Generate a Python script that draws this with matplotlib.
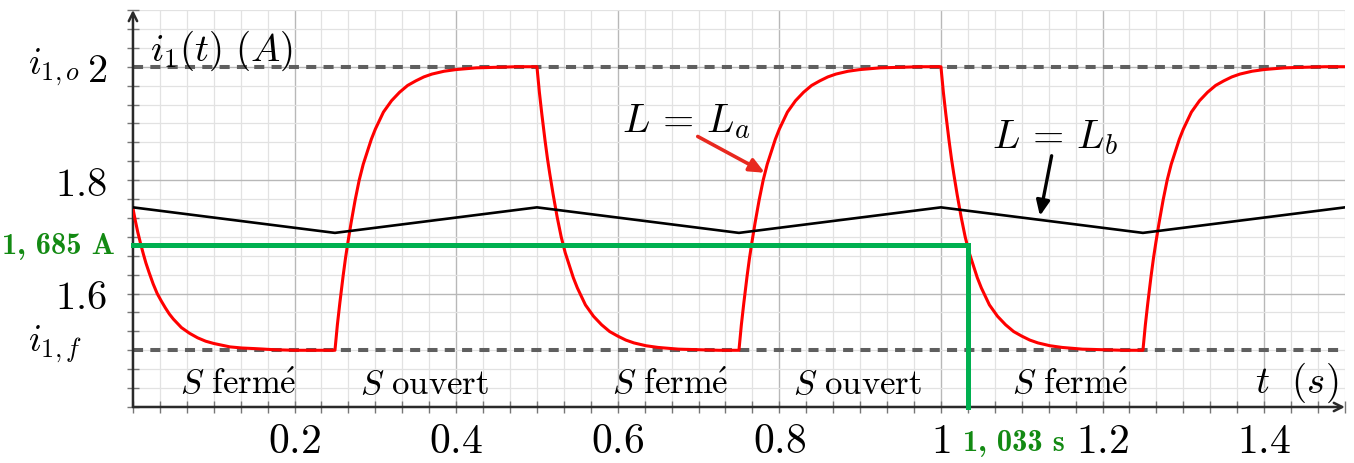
import numpy as np
import matplotlib
matplotlib.use("Agg")
import matplotlib.pyplot as plt
from matplotlib.ticker import MultipleLocator

plt.rcParams["mathtext.fontset"] = "cm"
plt.rcParams["font.family"] = ["DejaVu Serif"]

# red curve (L = La): one shape per switching interval
dt_seg = [0, 0.003, 0.006, 0.01, 0.013, 0.016, 0.02, 0.025, 0.03, 0.035,
          0.04, 0.045, 0.05, 0.06, 0.07, 0.08, 0.09, 0.1, 0.11, 0.12, 0.135,
          0.15, 0.175, 0.2, 0.225, 0.25]
start_a = [1.75, 1.728, 1.708, 1.685, 1.669, 1.654, 1.637, 1.617, 1.60,
           1.587, 1.575, 1.564, 1.555, 1.54, 1.53, 1.522, 1.516, 1.512,
           1.509, 1.506, 1.504, 1.503, 1.501, 1.5, 1.5, 1.5]
fall_a = [2.0, 1.955, 1.917, 1.87, 1.838, 1.81, 1.775, 1.735, 1.70, 1.672,
          1.65, 1.628, 1.61, 1.58, 1.56, 1.545, 1.533, 1.525, 1.518, 1.513,
          1.508, 1.505, 1.502, 1.501, 1.5, 1.5]
rise_a = [1.5, 1.545, 1.583, 1.63, 1.662, 1.69, 1.725, 1.765, 1.80, 1.828,
          1.85, 1.872, 1.89, 1.92, 1.94, 1.955, 1.967, 1.975, 1.982, 1.987,
          1.992, 1.995, 1.998, 1.999, 2.0, 2.0]
seg_start = [0, 0.25, 0.5, 0.75, 1.0, 1.25]
seg_shape = [start_a, rise_a, fall_a, rise_a, fall_a, rise_a]

# black curve (L = Lb)
t_b = [0, 0.25, 0.5, 0.75, 1.0, 1.25, 1.5]
i_b = [1.752, 1.707, 1.752, 1.707, 1.752, 1.707, 1.752]

i1o, i1f = 2.0, 1.5
t_mark, i_mark = 1.033, 1.685

xticks = [0.2, 0.4, 0.6, 0.8, 1.0, 1.2, 1.4]
xlabels = ["0.2", "0.4", "0.6", "0.8", "1", "1.2", "1.4"]
yticks = [1.6, 1.8, 2.0]
ylabels = ["1.6", "1.8", "2"]

phases = ["fermé", "ouvert", "fermé", "ouvert", "fermé"]
phase_x = [0.058, 0.281, 0.593, 0.817, 1.088]

t_red = np.concatenate([s + np.array(dt_seg) for s in seg_start])
i_red = np.concatenate([np.array(v) for v in seg_shape])

fig = plt.figure(figsize=(13.54, 4.64), dpi=100)
ax = fig.add_axes([0.0982, 0.1207, 0.8951, 0.8556])
ax.set_xlim(0, 1.5)
ax.set_ylim(1.4, 2.1)

ax.xaxis.set_major_locator(MultipleLocator(0.2))
ax.xaxis.set_minor_locator(MultipleLocator(0.2 / 6))
ax.yaxis.set_major_locator(MultipleLocator(0.2))
ax.yaxis.set_minor_locator(MultipleLocator(0.2 / 6))
ax.grid(which="major", color="#b8b8b8", lw=1.0)
ax.grid(which="minor", color="#e2e2e2", lw=0.9)
ax.set_axisbelow(True)
ax.set_xticks(xticks)
ax.set_xticklabels(["$%s$" % s for s in xlabels])
ax.set_yticks(yticks)
ax.set_yticklabels(["$%s$" % s for s in ylabels])
ax.tick_params(which="both", direction="inout", color="#777", length=9,
               width=1)
ax.tick_params(axis="x", which="both", labelsize=30, pad=4)
ax.tick_params(axis="y", which="both", labelsize=29, pad=14)
for sp in ax.spines.values():
    sp.set_visible(False)

# axes with arrows
ax.annotate("", xy=(1.0, 0), xytext=(0, 0), xycoords="axes fraction",
            arrowprops=dict(arrowstyle="->,head_length=0.6,head_width=0.3",
                            color="#2a2a2a", lw=1.8, shrinkA=0, shrinkB=0))
ax.annotate("", xy=(0, 1.0), xytext=(0, 0), xycoords="axes fraction",
            arrowprops=dict(arrowstyle="->,head_length=0.6,head_width=0.3",
                            color="#2a2a2a", lw=1.8, shrinkA=0, shrinkB=0))

ax.axhline(i1o, color="#5f5f5f", lw=2.9, ls=(0, (2.5, 1.8)), zorder=2)
ax.axhline(i1f, color="#5f5f5f", lw=2.9, ls=(0, (2.5, 1.8)), zorder=2)

ax.plot(t_red, i_red, color="#ff0000", lw=2.2, zorder=3)
ax.plot(t_b, i_b, color="black", lw=1.9, zorder=4)

ax.plot([0, t_mark, t_mark], [i_mark, i_mark, 1.4], color="#00b050", lw=3.6,
        zorder=5, clip_on=False, solid_joinstyle="miter")

ax.text(-0.13, i1o, r"$i_{1,o}$", fontsize=27, ha="left", va="center",
        clip_on=False)
ax.text(-0.13, i1f + 0.012, r"$i_{1,f}$", fontsize=27, ha="left",
        va="center", clip_on=False)
ax.text(-0.022, i_mark, "1, 685 A", fontfamily="cmb10", fontsize=22,
        color="#138a13", ha="right", va="center", clip_on=False)
ax.text(t_mark - 0.006, 1.4 - 0.062, "1, 033 s", fontfamily="cmb10",
        fontsize=22, color="#138a13", ha="left", va="center", clip_on=False)

ax.text(0.021, 2.012, r"$i_1(t)\ (A)$", fontsize=28, ha="left",
        va="baseline")
ax.text(1.389, 1.427, r"$t\ \ (s)$", fontsize=28, ha="left", va="baseline")
for x, p in zip(phase_x, phases):
    word = p.replace("é", r"\acute{e}")
    ax.text(x, 1.424, r"$S\ \mathrm{%s}$" % word, fontsize=25, ha="left",
            va="baseline")

ax.text(0.605, 1.887, r"$L\,=\,L_a$", fontsize=29, ha="left", va="baseline")
ax.text(1.063, 1.859, r"$L\,=\,L_b$", fontsize=29, ha="left", va="baseline")
ax.annotate("", xy=(0.782, 1.813), xytext=(0.699, 1.877),
            arrowprops=dict(arrowstyle="-|>,head_length=0.9,head_width=0.4",
                            color="#e8281e", lw=2.6, shrinkA=0, shrinkB=0))
ax.annotate("", xy=(1.1225, 1.737), xytext=(1.137, 1.843),
            arrowprops=dict(arrowstyle="-|>,head_length=0.9,head_width=0.4",
                            color="black", lw=2.4, shrinkA=0, shrinkB=0))

fig.savefig("out.png", dpi=100)
